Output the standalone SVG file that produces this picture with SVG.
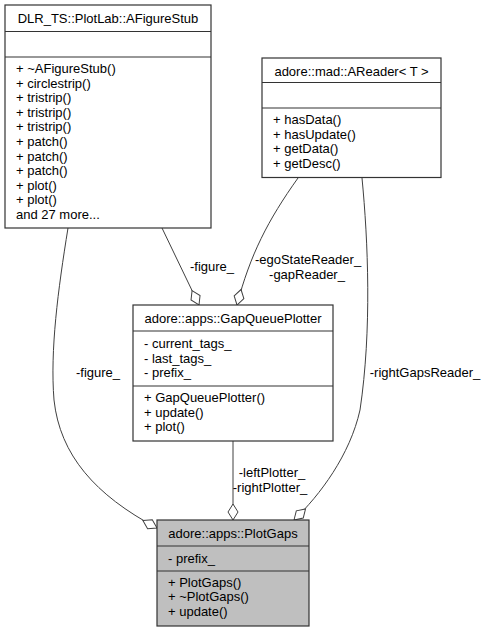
<svg xmlns="http://www.w3.org/2000/svg" width="485" height="632" viewBox="0 0 485 632">
<style>
text{font-family:"Liberation Sans",Arial,sans-serif;font-size:13px;fill:#000}
.c{text-anchor:middle}
.box{fill:#fff;stroke:#333;stroke-width:1.2}
.sel{fill:#bfbfbf;stroke:#333;stroke-width:1.2}
.sep{stroke:#333;stroke-width:1.2}
.edge{fill:none;stroke:#404040;stroke-width:1;marker-end:url(#dia)}
</style>
<defs>
<marker id="dia" markerUnits="userSpaceOnUse" markerWidth="20" markerHeight="12" viewBox="-1 -6 20 12" refX="16" refY="0" orient="auto" overflow="visible">
<path d="M0,0 L8,-5 L16,0 L8,5 Z" fill="#fff" stroke="#404040" stroke-width="1"/>
</marker>
</defs>
<rect width="485" height="632" fill="#fff"/>
<g id="connectors">
<path class="edge" d="M162,228 L199,305"/>
<path class="edge" d="M298,178 C268,220 250,255 237,305"/>
<path class="edge" d="M68,228 C58,290 50,350 54,400 C60,455 95,495 157,528"/>
<path class="edge" d="M233,441 L233,520"/>
<path class="edge" d="M362,178 C368,240 372,330 360,410 C350,455 320,495 294,520"/>
<text class="c" x="212" y="271">-figure_</text>
<text class="c" x="308" y="264">-egoStateReader_</text>
<text class="c" x="307" y="279">-gapReader_</text>
<text class="c" x="98" y="377">-figure_</text>
<text class="c" x="272" y="477">-leftPlotter_</text>
<text class="c" x="270" y="492">-rightPlotter_</text>
<text class="c" x="425" y="377">-rightGapsReader_</text>
</g>
<g id="AFigureStub">
<rect class="box" x="5" y="5" width="206" height="223"/>
<line class="sep" x1="5" y1="31.5" x2="211" y2="31.5"/>
<line class="sep" x1="5" y1="57" x2="211" y2="57"/>
<text class="c" x="108" y="23">DLR_TS::PlotLab::AFigureStub</text>
<text x="16" y="73">+ ~AFigureStub()</text>
<text x="16" y="87.6">+ circlestrip()</text>
<text x="16" y="102.2">+ tristrip()</text>
<text x="16" y="116.8">+ tristrip()</text>
<text x="16" y="131.4">+ tristrip()</text>
<text x="16" y="146">+ patch()</text>
<text x="16" y="160.6">+ patch()</text>
<text x="16" y="175.2">+ patch()</text>
<text x="16" y="189.8">+ plot()</text>
<text x="16" y="204.4">+ plot()</text>
<text x="16" y="219">and 27 more...</text>
</g>
<g id="AReader">
<rect class="box" x="262" y="58" width="179" height="119.5"/>
<line class="sep" x1="262" y1="82.5" x2="441" y2="82.5"/>
<line class="sep" x1="262" y1="108" x2="441" y2="108"/>
<text class="c" x="351.5" y="76">adore::mad::AReader&lt; T &gt;</text>
<text x="273" y="124">+ hasData()</text>
<text x="273" y="138.6">+ hasUpdate()</text>
<text x="273" y="153.2">+ getData()</text>
<text x="273" y="167.8">+ getDesc()</text>
</g>
<g id="GapQueuePlotter">
<rect class="box" x="133" y="305" width="200" height="136"/>
<line class="sep" x1="133" y1="331" x2="333" y2="331"/>
<line class="sep" x1="133" y1="386" x2="333" y2="386"/>
<text class="c" x="233" y="323">adore::apps::GapQueuePlotter</text>
<text x="144" y="348">- current_tags_</text>
<text x="144" y="362.6">- last_tags_</text>
<text x="144" y="377.2">- prefix_</text>
<text x="144" y="402">+ GapQueuePlotter()</text>
<text x="144" y="416.6">+ update()</text>
<text x="144" y="431.2">+ plot()</text>
</g>
<g id="PlotGaps">
<rect class="sel" x="157" y="520" width="152" height="106"/>
<line class="sep" x1="157" y1="546" x2="309" y2="546"/>
<line class="sep" x1="157" y1="571" x2="309" y2="571"/>
<text class="c" x="233" y="538">adore::apps::PlotGaps</text>
<text x="168" y="563">- prefix_</text>
<text x="168" y="586.5">+ PlotGaps()</text>
<text x="168" y="601">+ ~PlotGaps()</text>
<text x="168" y="615.5">+ update()</text>
</g>
</svg>
